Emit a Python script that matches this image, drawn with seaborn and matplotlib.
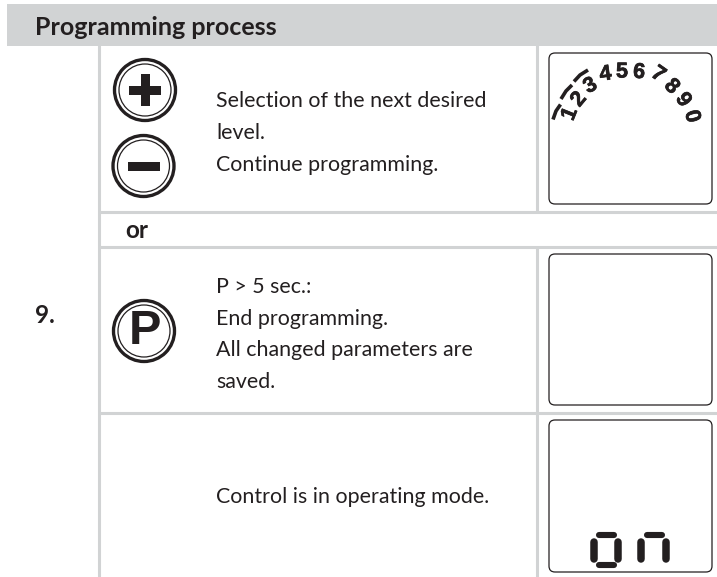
import matplotlib
matplotlib.use('Agg')
import matplotlib.pyplot as plt
from matplotlib.patches import Circle, FancyBboxPatch, Rectangle
import matplotlib.patheffects as pe
import seaborn as sns

GRAY = '#d1d3d4'
INK = '#231f20'

title = 'Programming process'
step = '9.'
or_label = 'or'
select_lines = ['Selection of the next desired', 'level.', 'Continue programming.']
select_base = [107, 139, 171]
end_lines = ['P > 5 sec.:', 'End programming.', 'All changed parameters are', 'saved.']
end_base = [293, 325, 356, 388]
mode_lines = ['Control is in operating mode.']
mode_base = [503]

# scale digits on the display: label, x, y, rotation
digits = ['1', '2', '3', '4', '5', '6', '7', '8', '9', '0']
digit_x = [570, 579, 590.5, 605.5, 622, 639, 658, 671.5, 683, 691.7]
digit_y = [114, 99.5, 86, 74.5, 72, 72.5, 74.5, 86.7, 100, 116.5]
digit_rot = [68, 50, 30, 8, 0, -5, -35, -45, -55, -75]

# level bars over digits 1-3
arc_x = [[553, 556, 560.5], [561, 566, 572], [574, 580, 588]]
arc_y = [[119.5, 111, 104.5], [99, 91, 85], [81.5, 75, 70]]

# row rules and display boxes (top, bottom)
rule_y = [212, 247, 413]
box_top = [53, 254, 420]
box_bottom = [204, 405, 572]

# 7 segment "on": horizontal bars then vertical bars
bar_x = [[599, 613.5], [599, 613.5], [647, 661.5]]
bar_y = [[535, 535], [564.5, 564.5], [535, 535]]
post_x = [[593.5, 593.5], [617.7, 617.7], [641.3, 641.3], [666.3, 666.3]]
post_y = [[542, 558.5], [542, 558.5], [542, 558.5], [542, 558.5]]

sns.set_style('white')
plt.rcParams['font.family'] = ['Lato', 'DejaVu Sans']

fig = plt.figure(figsize=(7.17, 5.77), dpi=100)
ax = fig.add_axes([0, 0, 1, 1])
ax.set_xlim(0, 717)
ax.set_ylim(577, 0)
ax.axis('off')

# table frame
ax.add_patch(Rectangle((7, 4), 710, 41.5, fc=GRAY, ec='none'))
ax.plot([99, 99], [45, 577], color=GRAY, lw=2.2, solid_capstyle='butt')
ax.plot([537, 537], [45, 212], color=GRAY, lw=2.2, solid_capstyle='butt')
ax.plot([537, 537], [247, 577], color=GRAY, lw=2.2, solid_capstyle='butt')
for y in rule_y:
    ax.plot([99, 717], [y, y], color=GRAY, lw=2.2, solid_capstyle='butt')

for top, bottom in zip(box_top, box_bottom):
    ax.add_patch(FancyBboxPatch((555, top + 6), 151, bottom - top - 12,
                                boxstyle='round,pad=6,rounding_size=6',
                                fc='white', ec=INK, lw=0.9))

ax.text(35, 35, title, fontsize=18, fontweight='bold', color=INK)
ax.text(125, 238, or_label, fontsize=17.5, fontweight='bold', color=INK)
ax.text(35, 323, step, fontsize=17.5, fontweight='bold', color=INK)

for lines, bases in [(select_lines, select_base), (end_lines, end_base), (mode_lines, mode_base)]:
    for line, y in zip(lines, bases):
        ax.text(216, y, line, fontsize=15.4, color=INK)


def button(cx, cy):
    ax.add_patch(Circle((cx, cy), 30.5, fc='white', ec=INK, lw=2.4))
    ax.add_patch(Circle((cx, cy), 26, fc='white', ec=INK, lw=0.9))


button(145, 90)
ax.add_patch(Rectangle((129, 85.5), 32, 9, fc=INK, ec='none'))
ax.add_patch(Rectangle((140.5, 74), 9, 32, fc=INK, ec='none'))
button(143.5, 166)
ax.add_patch(Rectangle((128, 161.5), 32, 9, fc=INK, ec='none'))
button(144, 331)
ax.text(145, 331, 'P', fontsize=35, fontweight='bold', family='Liberation Sans',
        color=INK, ha='center', va='center')

for d, x, y, r in zip(digits, digit_x, digit_y, digit_rot):
    ax.text(x, y, d, fontsize=15.5, fontweight='bold', family='Liberation Sans',
            color=INK, ha='center', va='center', rotation=r,
            path_effects=[pe.withStroke(linewidth=0.5, foreground=INK)])
for x, y in zip(arc_x, arc_y):
    ax.plot(x, y, color=INK, lw=2.6, solid_capstyle='butt')

for x, y in zip(bar_x, bar_y):
    ax.plot(x, y, color=INK, lw=4.4, solid_capstyle='round')
for x, y in zip(post_x, post_y):
    ax.plot(x, y, color=INK, lw=5.4, solid_capstyle='round')

fig.savefig('out.png', dpi=100)
